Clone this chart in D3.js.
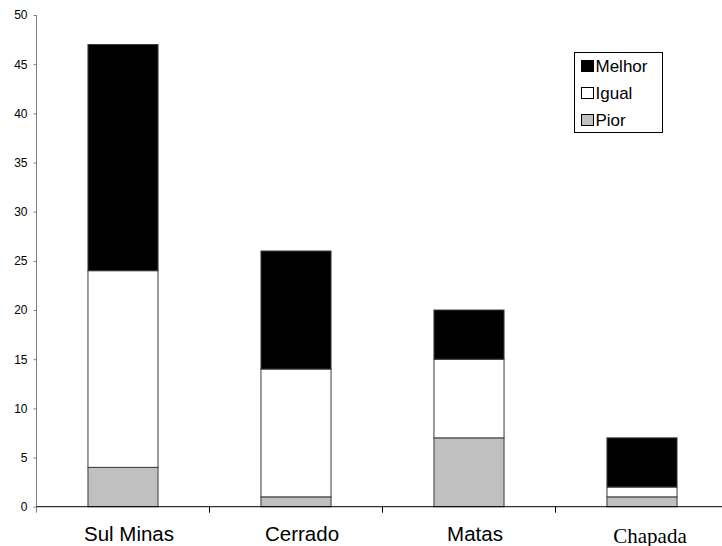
<!DOCTYPE html>
<html>
<head>
<meta charset="utf-8">
<script src="https://cdn.jsdelivr.net/npm/d3@7"></script>
<style>
  html, body { margin: 0; padding: 0; background: #fff; }
  svg { display: block; }
</style>
</head>
<body>
<svg id="chart" width="722" height="546"></svg>
<script>
// Regions and the count of answers in each stacked category
const categories = ["Sul Minas", "Cerrado", "Matas", "Chapada"];
const pior   = [4, 1, 7, 1];
const igual  = [20, 13, 8, 1];
const melhor = [23, 12, 5, 5];
const seriesNames = ["Pior", "Igual", "Melhor"];
const yTicks = [0, 5, 10, 15, 20, 25, 30, 35, 40, 45, 50];

const colors = { Pior: "#c0c0c0", Igual: "#ffffff", Melhor: "#000000" };

const svg = d3.select("#chart");
const margin = { left: 36.5, top: 15, bottom: 506.7 };
const plotRight = 728.5;
const sans = "Liberation Sans, Arial, sans-serif";
const serif = "Liberation Serif, Times New Roman, serif";

const rows = categories.map((c, i) => ({
  cat: c, Pior: pior[i], Igual: igual[i], Melhor: melhor[i]
}));

const stack = d3.stack().keys(seriesNames)(rows);

const x = d3.scaleBand()
  .domain(categories)
  .range([margin.left, plotRight])
  .paddingInner(0.595)
  .paddingOuter(0.2975);

const y = d3.scaleLinear().domain([0, 50]).range([margin.bottom, margin.top]);

// Stacked bars
svg.append("g").selectAll("g")
  .data(stack)
  .join("g")
  .attr("fill", d => colors[d.key])
  .selectAll("rect")
  .data(d => d)
  .join("rect")
  .attr("x", d => x(d.data.cat))
  .attr("y", d => y(d[1]))
  .attr("width", x.bandwidth())
  .attr("height", d => y(d[0]) - y(d[1]))
  .attr("stroke", "#3a3a3a")
  .attr("stroke-width", 1);

// Y axis
const yAxis = svg.append("g")
  .attr("transform", `translate(${margin.left},0)`)
  .call(d3.axisLeft(y).tickValues(yTicks).tickSize(3).tickPadding(6));
yAxis.select(".domain").attr("d", `M0,${margin.top}V${margin.bottom + 6}`).attr("stroke", "#808080");
yAxis.selectAll(".tick line").attr("stroke", "#808080");
yAxis.selectAll("text")
  .attr("font-family", sans)
  .attr("font-size", 12)
  .attr("fill", "#000");

// X axis baseline with separators between categories
const xBase = svg.append("g").attr("transform", `translate(0,${margin.bottom})`);
xBase.append("line")
  .attr("x1", margin.left).attr("x2", 722)
  .attr("stroke", "#000").attr("stroke-width", 1);
categories.slice(1).forEach(c => {
  const sep = x(c) - (x.step() - x.bandwidth()) / 2;
  xBase.append("line")
    .attr("x1", sep).attr("x2", sep)
    .attr("y1", 0).attr("y2", 6)
    .attr("stroke", "#000");
});

// Category labels (the last one set in a serif face)
svg.append("g").selectAll("text")
  .data(categories)
  .join("text")
  .attr("x", d => x(d) + x.bandwidth() / 2)
  .attr("dx", d => d === "Chapada" ? 8 : 6)
  .attr("y", d => d === "Chapada" ? 542.5 : 540.5)
  .attr("text-anchor", "middle")
  .attr("font-family", d => d === "Chapada" ? serif : sans)
  .attr("font-size", d => d === "Chapada" ? 21 : 20.5)
  .text(d => d);

// Legend
const legend = svg.append("g").attr("transform", "translate(574.5,52.5)");
legend.append("rect")
  .attr("width", 88).attr("height", 80)
  .attr("fill", "#fff").attr("stroke", "#000").attr("stroke-width", 1);
const legendOrder = ["Melhor", "Igual", "Pior"];
legendOrder.forEach((k, i) => {
  const g = legend.append("g").attr("transform", `translate(7,${18 + i * 27})`);
  g.append("rect")
    .attr("x", 0).attr("y", -10)
    .attr("width", 12).attr("height", 11)
    .attr("fill", colors[k]).attr("stroke", "#000").attr("stroke-width", 1);
  g.append("text")
    .attr("x", 14).attr("y", 1)
    .attr("font-family", sans)
    .attr("font-size", 17)
    .text(k);
});
</script>
</body>
</html>
